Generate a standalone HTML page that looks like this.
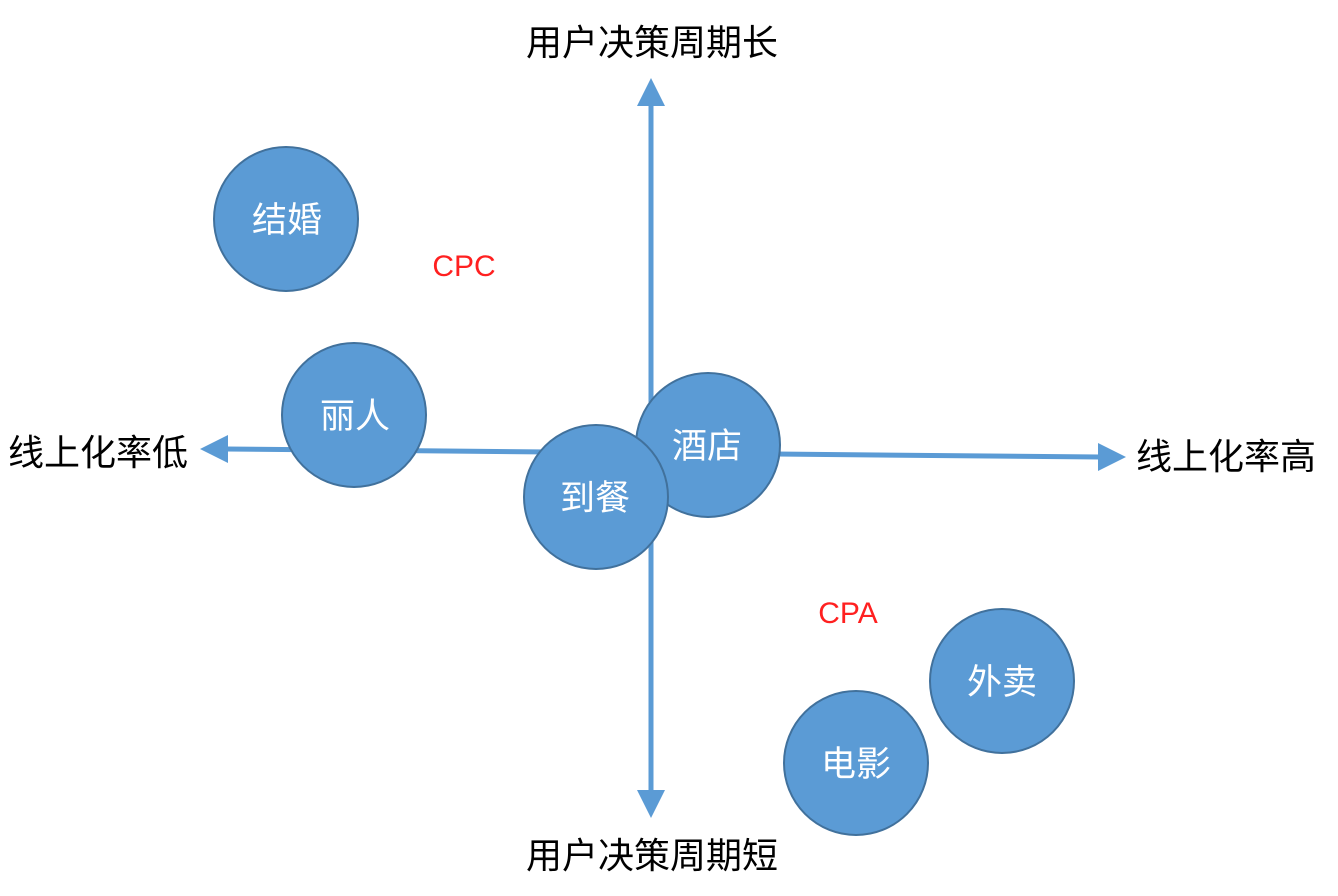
<!DOCTYPE html>
<html><head><meta charset="utf-8"><style>
html,body{margin:0;padding:0;background:#fff;}
svg{display:block;}
text{font-family:"Liberation Sans","Noto Sans CJK SC",sans-serif;}
</style></head><body>
<svg width="1338" height="896" viewBox="0 0 1338 896" xmlns="http://www.w3.org/2000/svg">
<g stroke="#5b9bd5" stroke-width="5" fill="none">
<line x1="651" y1="104" x2="651" y2="792"/>
<line x1="226" y1="449" x2="1100" y2="457"/>
</g>
<g fill="#5b9bd5">
<polygon points="637,106 665,106 651,78"/>
<polygon points="637,790 665,790 651,818"/>
<polygon points="228,435 228,463 200,449"/>
<polygon points="1098,443 1098,471 1126,457"/>
</g>
<g fill="#5b9bd5" stroke="#41719c" stroke-width="2">
<circle cx="286" cy="219" r="72"/>
<circle cx="354" cy="415" r="72"/>
<circle cx="708" cy="445" r="72"/>
<circle cx="596" cy="497" r="72"/>
<circle cx="1002" cy="681" r="72"/>
<circle cx="856" cy="763" r="72"/>
</g>
<g fill="#fff" font-size="35" text-anchor="middle">
<text x="287" y="232">结婚</text>
<text x="355" y="428">丽人</text>
<text x="707" y="458">酒店</text>
<text x="595" y="510">到餐</text>
<text x="1002" y="694">外卖</text>
<text x="856" y="776">电影</text>
</g>
<g fill="#000" font-size="36" text-anchor="middle">
<text x="652" y="55">用户决策周期长</text>
<text x="652" y="868">用户决策周期短</text>
<text x="98" y="465">线上化率低</text>
<text x="1226" y="469">线上化率高</text>
</g>
<g fill="#ff2020" font-size="30" text-anchor="middle">
<text x="464" y="276">CPC</text>
<text x="848" y="623">CPA</text>
</g>
</svg>
</body></html>
